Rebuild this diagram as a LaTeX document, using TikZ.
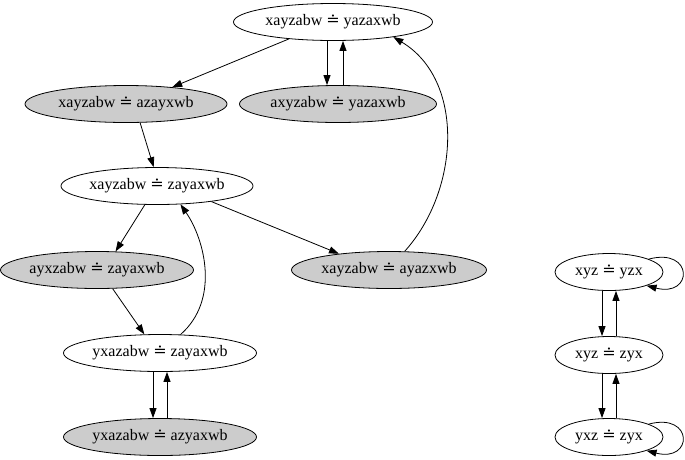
\documentclass[tikz,border=0pt]{standalone}
\usepackage{fontspec}
\setmainfont{Liberation Serif}
\newfontfamily\symf{DejaVu Serif}
\usetikzlibrary{shapes.geometric,arrows.meta}
\newcommand{\eqd}{{\symf ≐}}
\begin{document}
\begin{tikzpicture}[x=1pt,y=-1pt,
  st/.style={ellipse,draw,line width=0.8pt,inner sep=0pt,minimum height=37pt,font=\fontsize{16}{18}\selectfont},
  wh/.style={st,fill=white},
  gr/.style={st,fill=black!20},
  arr/.style={-{Triangle[length=10pt,width=7pt]},line width=0.8pt}]
\useasboundingbox (0,0) rectangle (685,459);
\node[wh,minimum width=199pt] (A) at (333,22) {xayzabw \eqd{} yazaxwb};
\node[gr,minimum width=202pt] (B) at (126,104) {xayzabw \eqd{} azayxwb};
\node[gr,minimum width=197pt] (C) at (338,104) {axyzabw \eqd{} yazaxwb};
\node[wh,minimum width=192pt] (D) at (157,186) {xayzabw \eqd{} zayaxwb};
\node[gr,minimum width=193pt] (E) at (97,270) {ayxzabw \eqd{} zayaxwb};
\node[gr,minimum width=195pt] (F) at (389,270) {xayzabw \eqd{} ayazxwb};
\node[wh,minimum width=193pt] (G) at (160,353) {yxazabw \eqd{} zayaxwb};
\node[gr,minimum width=193pt] (H) at (160,437) {yxazabw \eqd{} azyaxwb};
\node[wh,minimum width=108pt] (I) at (609,272) {xyz \eqd{} yzx};
\node[wh,minimum width=108pt] (J) at (609,355) {xyz \eqd{} zyx};
\node[wh,minimum width=108pt] (K) at (609,437) {yxz \eqd{} zyx};
% edges
\draw[arr] (A.-159) -- (B.20);
\draw[arr] ([xshift=-6pt]A.south) -- ([xshift=-11pt]C.north);
\draw[arr] ([xshift=5pt]C.north) -- ([xshift=10pt]A.south);
\draw[arr] (B.-53) -- (D.100);
\draw[arr] (D.-123) -- (E.45);
\draw[arr] (D.-16) -- (F.162);
\draw[arr] (F.50) .. controls (460,190) and (465,80) .. (A.-14);
\draw[arr] (E.-50) -- (G.130);
\draw[arr] (G.42) .. controls (220,300) and (205,240) .. (D.-38);
\draw[arr] ([xshift=-7pt]G.south) -- ([xshift=-7pt]H.north);
\draw[arr] ([xshift=7pt]H.north) -- ([xshift=7pt]G.south);
\draw[arr] ([xshift=-7pt]I.south) -- ([xshift=-7pt]J.north);
\draw[arr] ([xshift=7pt]J.north) -- ([xshift=7pt]I.south);
\draw[arr] ([xshift=-7pt]J.south) -- ([xshift=-7pt]K.north);
\draw[arr] ([xshift=7pt]K.north) -- ([xshift=7pt]J.south);
\draw[arr] (I.18) .. controls +(45,-12) and +(47,12) .. (I.-20);
\draw[arr] (K.18) .. controls +(45,-12) and +(47,12) .. (K.-20);
\end{tikzpicture}
\end{document}
